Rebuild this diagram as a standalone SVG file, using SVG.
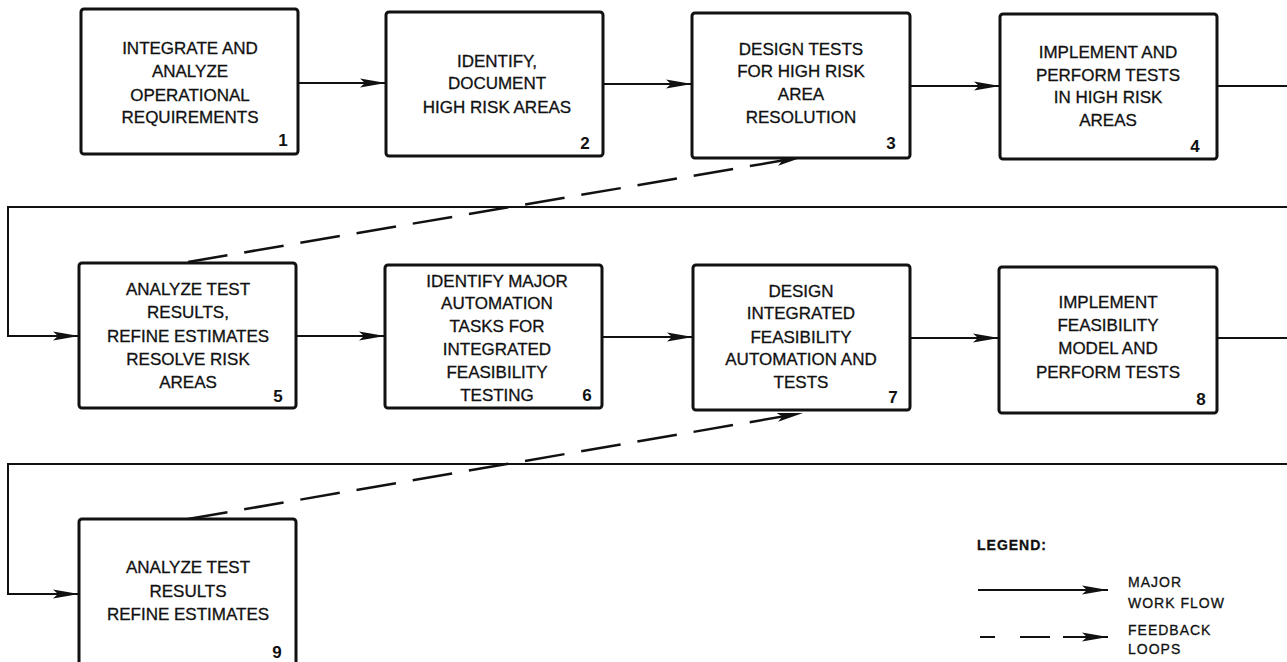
<svg xmlns="http://www.w3.org/2000/svg" width="1287" height="662" viewBox="0 0 1287 662">
<style>
.box{fill:#fff;stroke:#111;stroke-width:3}
.t{font-family:"Liberation Sans",Arial,sans-serif;font-size:17px;fill:#111;text-anchor:middle;stroke:#111;stroke-width:0.3}
.n{font-family:"Liberation Sans",Arial,sans-serif;font-size:17px;fill:#111;text-anchor:middle;font-weight:bold}
.c{fill:none;stroke:#111;stroke-width:2}
.d{fill:none;stroke:#111;stroke-width:2.5;stroke-dasharray:40 17}
.lg{font-family:"Liberation Sans",Arial,sans-serif;font-size:14px;fill:#111;letter-spacing:1px;stroke:#111;stroke-width:0.3}
</style>
<defs>
<marker id="ah" markerUnits="userSpaceOnUse" markerWidth="27" markerHeight="12" refX="26" refY="5" orient="auto">
<path d="M0,0.5 L26,5 L0,9.5 L5,5 Z" fill="#111"/>
</marker>
</defs>
<rect width="1287" height="662" fill="#fff"/>
<g id="connectors">
<path class="c" d="M298,83 H386" marker-end="url(#ah)"/>
<path class="c" d="M603,84 H692" marker-end="url(#ah)"/>
<path class="c" d="M910,86 H1000" marker-end="url(#ah)"/>
<path class="c" d="M1217,86 H1287"/>
<path class="c" d="M1287,207 H8 V336 H79" marker-end="url(#ah)"/>
<path class="c" d="M296,336 H385" marker-end="url(#ah)"/>
<path class="c" d="M602,337 H693" marker-end="url(#ah)"/>
<path class="c" d="M910,338 H999" marker-end="url(#ah)"/>
<path class="c" d="M1217,338 H1287"/>
<path class="c" d="M1287,464 H8 V594 H79" marker-end="url(#ah)"/>
<path class="d" d="M188,262 L803,157" marker-end="url(#ah)"/>
<path class="d" d="M188,519 L803,413" marker-end="url(#ah)"/>
</g>
<g id="n1"><rect class="box" x="81" y="9" width="217" height="145" rx="3"/>
<text class="t" x="190" y="54">INTEGRATE AND</text><text class="t" x="190" y="77">ANALYZE</text><text class="t" x="190" y="101">OPERATIONAL</text><text class="t" x="190" y="123">REQUIREMENTS</text><text class="n" x="283" y="146">1</text></g>
<g id="n2"><rect class="box" x="386" y="12" width="217" height="144" rx="3"/>
<text class="t" x="497" y="67">IDENTIFY,</text><text class="t" x="497" y="89">DOCUMENT</text><text class="t" x="497" y="113">HIGH RISK AREAS</text><text class="n" x="585" y="149">2</text></g>
<g id="n3"><rect class="box" x="692" y="13" width="218" height="145" rx="3"/>
<text class="t" x="801" y="55">DESIGN TESTS</text><text class="t" x="801" y="77">FOR HIGH RISK</text><text class="t" x="801" y="100">AREA</text><text class="t" x="801" y="123">RESOLUTION</text><text class="n" x="891" y="149">3</text></g>
<g id="n4"><rect class="box" x="1000" y="14" width="217" height="145" rx="3"/>
<text class="t" x="1108" y="58">IMPLEMENT AND</text><text class="t" x="1108" y="81">PERFORM TESTS</text><text class="t" x="1108" y="103">IN HIGH RISK</text><text class="t" x="1108" y="126">AREAS</text><text class="n" x="1195" y="152">4</text></g>
<g id="n5"><rect class="box" x="79" y="263" width="217" height="145" rx="3"/>
<text class="t" x="188" y="295">ANALYZE TEST</text><text class="t" x="188" y="318">RESULTS,</text><text class="t" x="188" y="342">REFINE ESTIMATES</text><text class="t" x="188" y="365">RESOLVE RISK</text><text class="t" x="188" y="388">AREAS</text><text class="n" x="278" y="402">5</text></g>
<g id="n6"><rect class="box" x="385" y="265" width="217" height="143" rx="3"/>
<text class="t" x="497" y="287">IDENTIFY MAJOR</text><text class="t" x="497" y="309">AUTOMATION</text><text class="t" x="497" y="332">TASKS FOR</text><text class="t" x="497" y="355">INTEGRATED</text><text class="t" x="497" y="378">FEASIBILITY</text><text class="t" x="497" y="401">TESTING</text><text class="n" x="587" y="401">6</text></g>
<g id="n7"><rect class="box" x="693" y="265" width="217" height="145" rx="3"/>
<text class="t" x="801" y="297">DESIGN</text><text class="t" x="801" y="319">INTEGRATED</text><text class="t" x="801" y="343">FEASIBILITY</text><text class="t" x="801" y="365">AUTOMATION AND</text><text class="t" x="801" y="388">TESTS</text><text class="n" x="893" y="403">7</text></g>
<g id="n8"><rect class="box" x="999" y="267" width="218" height="146" rx="3"/>
<text class="t" x="1108" y="308">IMPLEMENT</text><text class="t" x="1108" y="331">FEASIBILITY</text><text class="t" x="1108" y="354">MODEL AND</text><text class="t" x="1108" y="378">PERFORM TESTS</text><text class="n" x="1201" y="405">8</text></g>
<g id="n9"><rect class="box" x="79" y="519" width="217" height="152" rx="3"/>
<text class="t" x="188" y="573">ANALYZE TEST</text><text class="t" x="188" y="597">RESULTS</text><text class="t" x="188" y="620">REFINE ESTIMATES</text><text class="n" x="277" y="658">9</text></g>
<g id="legend">
<text class="lg" x="977" y="550" font-weight="bold" font-size="13" letter-spacing="1.5">LEGEND:</text>
<path class="c" d="M978,590 H1108" marker-end="url(#ah)"/>
<path class="c" d="M980,637 H1108" stroke-dasharray="15 25 30 13 60" marker-end="url(#ah)"/>
<text class="lg" x="1128" y="587">MAJOR</text>
<text class="lg" x="1128" y="608">WORK FLOW</text>
<text class="lg" x="1128" y="635">FEEDBACK</text>
<text class="lg" x="1128" y="654">LOOPS</text>
</g>
</svg>
